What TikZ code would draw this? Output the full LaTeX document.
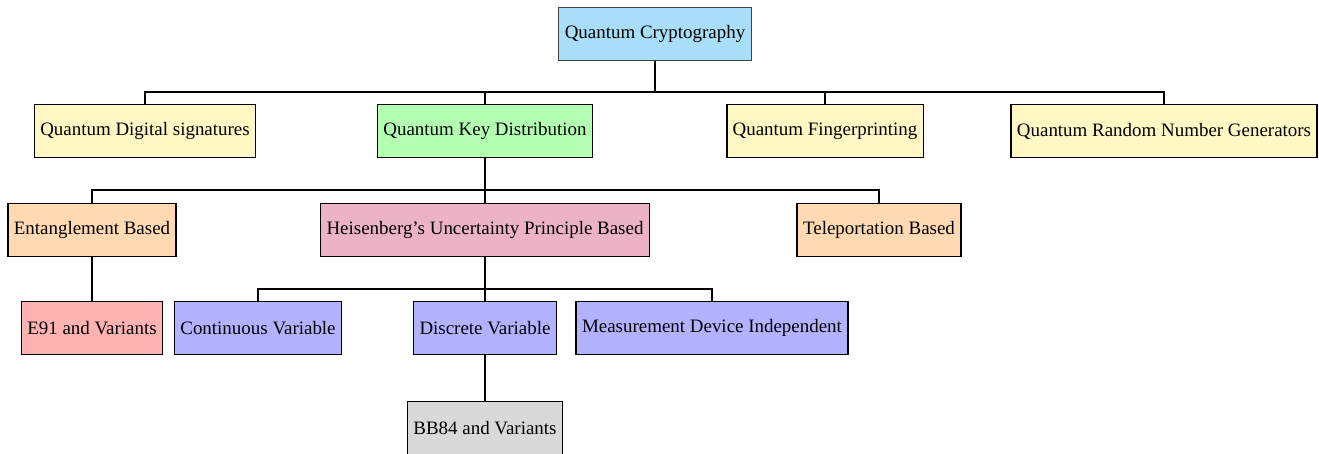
\documentclass[tikz,border=0pt]{standalone}
\usepackage{fontspec}
\setmainfont{Liberation Serif}
\definecolor{qcblue}{HTML}{A9DEF9}
\definecolor{appyellow}{HTML}{FFF8C4}
\tikzset{
	box/.style={draw, thick, minimum height=0.94cm, inner xsep=3pt, font=\fontsize{9.6}{11.5}\selectfont},
	link/.style={thick}
}
\begin{document}
\begin{tikzpicture}[x=0.0178cm, y=-0.0178cm]
	\useasboundingbox (0, 0) rectangle (1319, 453);
	\node[box, fill=qcblue, draw=darkgray, semithick] (QC) at (655, 34) {Quantum Cryptography};

	\node[box, fill=appyellow] (QDS) at (145, 131) {Quantum Digital signatures};
	\node[box, fill=green!30] (QKD) at (485, 131) {Quantum Key Distribution};
	\node[box, fill=appyellow] (QFP) at (825, 131) {Quantum Fingerprinting};
	\node[box, fill=appyellow] (QRNG) at (1164, 131) {Quantum Random Number Generators};

	\node[box, fill=orange!30] (EB) at (92, 230) {Entanglement Based};
	\node[box, fill=purple!30] (HUP) at (485, 230) {Heisenberg's Uncertainty Principle Based};
	\node[box, fill=orange!30] (TB) at (879, 230) {Teleportation Based};

	\node[box, fill=red!30] (E91) at (92, 328) {E91 and Variants};
	\node[box, fill=blue!30] (CV) at (258, 328) {Continuous Variable};
	\node[box, fill=blue!30] (DV) at (485, 328) {Discrete Variable};
	\node[box, fill=blue!30] (MDI) at (712, 328) {Measurement Device Independent};

	\node[box, fill=gray!30] (BB84) at (485, 428) {BB84 and Variants};

	\foreach \child in {QDS, QKD, QFP, QRNG}
		\draw[link] (QC.south) -- ++(0, 31) -| (\child.north);
	\foreach \child in {EB, HUP, TB}
		\draw[link] (QKD.south) -- ++(0, 32) -| (\child.north);
	\draw[link] (EB.south) -- (E91.north);
	\foreach \child in {CV, DV, MDI}
		\draw[link] (HUP.south) -- ++(0, 32) -| (\child.north);
	\draw[link] (DV.south) -- (BB84.north);
\end{tikzpicture}
\end{document}
